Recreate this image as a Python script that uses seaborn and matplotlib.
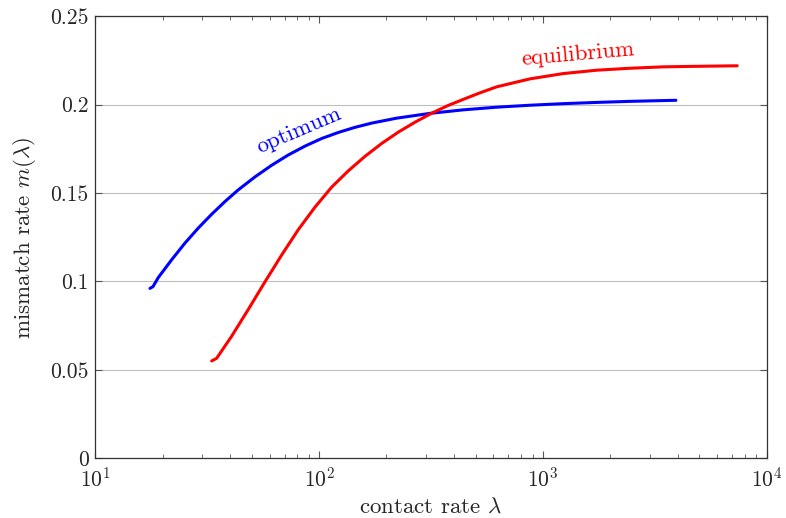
import numpy as np
import pandas as pd
import matplotlib
matplotlib.use("Agg")
import matplotlib.pyplot as plt
import matplotlib.ticker as mticker
import seaborn as sns

# --- valeurs ---
opt_lambda = [17.52, 18.07, 19.08, 21.91, 25.12, 28.81, 33.07, 37.93, 43.5, 51.64, 61.34, 72.78, 86.41,
              102.6, 121.7, 144.5, 171.7, 222.0, 312.8, 440.9, 621.6, 875.6, 1234, 1740, 2452, 3936]
opt_m = [0.0961, 0.0971, 0.1022, 0.1123, 0.1217, 0.1302, 0.1380, 0.1452, 0.1518, 0.1591, 0.1657, 0.1715, 0.1765,
         0.1808, 0.1842, 0.1871, 0.1895, 0.1923, 0.1950, 0.1970, 0.1985, 0.1996, 0.2005, 0.2012, 0.2018, 0.2024]

eq_lambda = [33.07, 34.81, 40.63, 48.21, 57.25, 68.0, 80.67, 95.77, 113.7, 134.9, 160.2, 190.3, 225.8,
             268.1, 318.4, 377.7, 448.6, 523.4, 621.6, 875.6, 1234, 1740, 2452, 3453, 4870, 7396]
eq_m = [0.0551, 0.0566, 0.0691, 0.0842, 0.0998, 0.1150, 0.1293, 0.1420, 0.1533, 0.1625, 0.1707, 0.1780, 0.1844,
        0.1900, 0.1951, 0.1995, 0.2033, 0.2066, 0.2100, 0.2145, 0.2175, 0.2194, 0.2205, 0.2213, 0.2216, 0.2219]

y_ticks = [0, 0.05, 0.1, 0.15, 0.2, 0.25]

df = pd.concat([
    pd.DataFrame({"lam": opt_lambda, "m": opt_m, "curve": "optimum"}),
    pd.DataFrame({"lam": eq_lambda, "m": eq_m, "curve": "equilibrium"}),
])

sns.set_style("ticks")
plt.rcParams["font.family"] = ["cmr10"]
plt.rcParams["mathtext.fontset"] = "cm"
plt.rcParams["axes.formatter.use_mathtext"] = True
plt.rcParams["font.size"] = 15

fig = plt.figure(figsize=(7.86, 5.18), dpi=100)
ax = fig.add_axes([0.1215, 0.115, 0.8537, 0.854])

sns.lineplot(data=df, x="lam", y="m", hue="curve", palette={"optimum": "blue", "equilibrium": "red"},
             sort=False, estimator=None, linewidth=2.2, legend=False, ax=ax)

ax.set_xscale("log")
ax.set_xlim(10, 1e4)
ax.set_ylim(0, 0.25)
ax.set_yticks(y_ticks)
ax.yaxis.set_major_formatter(mticker.FuncFormatter(lambda v, p: f"{v:g}"))
ax.grid(axis="y", color="#bfbfbf", linewidth=0.8)
ax.tick_params(which="both", direction="in", top=True, right=True, color="#555555")
ax.tick_params(which="major", length=5, labelsize=15.5)
ax.tick_params(axis="x", which="major", pad=6)
ax.tick_params(axis="y", which="major", pad=5)
ax.tick_params(which="minor", length=3)
for s in ax.spines.values():
    s.set_color("#333333")
    s.set_linewidth(0.9)

ax.set_xlabel(r"contact rate $\lambda$", fontsize=16.5, labelpad=5)
ax.set_ylabel(r"mismatch rate $m(\lambda)$", fontsize=16.5, labelpad=9)

ax.text(81.2, 0.1853, "optimum", color="blue", rotation=23, ha="center", va="center", fontsize=16.5)
ax.text(1436, 0.2283, "equilibrium", color="red", rotation=5, ha="center", va="center", fontsize=16.5)

fig.savefig("out.png", dpi=100)
